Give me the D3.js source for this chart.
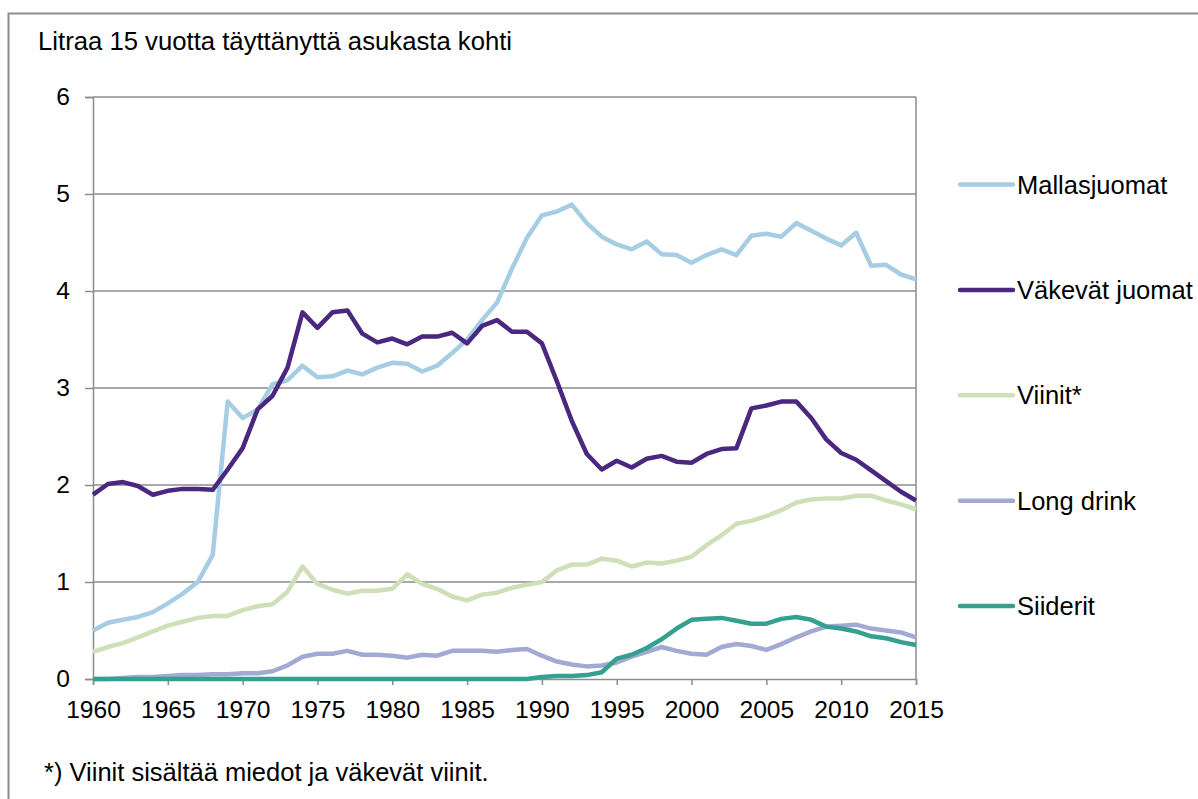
<!DOCTYPE html>
<html><head><meta charset="utf-8">
<script src="https://cdn.jsdelivr.net/npm/d3@7"></script>
<style>
html,body{margin:0;padding:0;background:#fff;}
svg{display:block;font-family:"Liberation Sans",Arial,sans-serif;}
</style></head>
<body>
<svg id="chart" width="1198" height="799"></svg>
<script>
const years = d3.range(1960, 2016);
const seriesNames = ["Mallasjuomat", "Väkevät juomat", "Viinit*", "Long drink", "Siiderit"];
const seriesColors = ["#a6cde4", "#4a2780", "#cfdfb8", "#a2aad3", "#35a08f"];
const mallasjuomat = [0.50,0.58,0.61,0.64,0.69,0.78,0.88,1.00,1.28,2.86,2.69,2.78,3.04,3.08,3.23,3.11,3.12,3.18,3.14,3.21,
  3.26,3.25,3.17,3.23,3.36,3.50,3.70,3.88,4.23,4.55,4.78,4.82,4.89,4.70,4.56,4.48,4.43,4.51,4.38,4.37,
  4.29,4.37,4.43,4.37,4.57,4.59,4.56,4.70,4.62,4.54,4.47,4.60,4.26,4.27,4.17,4.12];
const vakevat = [1.90,2.01,2.03,1.99,1.90,1.94,1.96,1.96,1.95,2.16,2.38,2.78,2.92,3.21,3.78,3.62,3.78,3.80,3.56,3.47,
  3.51,3.45,3.53,3.53,3.57,3.46,3.64,3.70,3.58,3.58,3.46,3.07,2.66,2.32,2.16,2.25,2.18,2.27,2.30,2.24,
  2.23,2.32,2.37,2.38,2.79,2.82,2.86,2.86,2.69,2.47,2.33,2.26,2.15,2.04,1.93,1.84];
const viinit = [0.28,0.33,0.37,0.43,0.49,0.55,0.59,0.63,0.65,0.65,0.71,0.75,0.77,0.90,1.16,0.98,0.92,0.88,0.91,0.91,
  0.93,1.08,0.98,0.93,0.85,0.81,0.87,0.89,0.94,0.97,1.00,1.12,1.18,1.18,1.24,1.22,1.16,1.20,1.19,1.22,
  1.26,1.38,1.48,1.60,1.63,1.68,1.74,1.82,1.85,1.86,1.86,1.89,1.89,1.84,1.80,1.75];
const longDrink = [0.00,0.00,0.01,0.02,0.02,0.03,0.04,0.04,0.05,0.05,0.06,0.06,0.08,0.14,0.23,0.26,0.26,0.29,0.25,0.25,
  0.24,0.22,0.25,0.24,0.29,0.29,0.29,0.28,0.30,0.31,0.24,0.18,0.15,0.13,0.14,0.17,0.23,0.28,0.33,0.29,
  0.26,0.25,0.33,0.36,0.34,0.30,0.36,0.43,0.49,0.54,0.55,0.56,0.52,0.50,0.48,0.43];
const siiderit = [0,0,0,0,0,0,0,0,0,0,0,0,0,0,0,0,0,0,0,0,
  0,0,0,0,0,0,0,0,0,0,0.02,0.03,0.03,0.04,0.07,0.21,0.25,0.32,0.41,0.52,
  0.61,0.62,0.63,0.60,0.57,0.57,0.62,0.64,0.61,0.54,0.52,0.49,0.44,0.42,0.38,0.35];
const xTicks = d3.range(1960, 2016, 5);
const yTicks = [0,1,2,3,4,5,6];
const titleText = "Litraa 15 vuotta täyttänyttä asukasta kohti";
const footnote = "*) Viinit sisältää miedot ja väkevät viinit.";

const allSeries = [mallasjuomat, vakevat, viinit, longDrink, siiderit];

const svg = d3.select("#chart");
const L = 93, R = 916, T = 97, B = 679;
const x = d3.scaleLinear().domain([1960, 2015]).range([L, R]);
const y = d3.scaleLinear().domain([0, 6]).range([B, T]);
const grid = "#8c8c8c";
const FONT = "Liberation Sans, Arial, sans-serif";

// outer frame
svg.append("rect").attr("x", 8.5).attr("y", 13.5).attr("width", 1300).attr("height", 900)
  .attr("fill", "none").attr("stroke", grid).attr("stroke-width", 2);

// title
svg.append("text").attr("x", 38).attr("y", 50).attr("font-size", 25.7).attr("fill", "#000").text(titleText);

// gridlines
svg.append("g").selectAll("line").data(yTicks.filter(d => d > 0)).join("line")
  .attr("x1", L).attr("x2", R).attr("y1", d => y(d)).attr("y2", d => y(d))
  .attr("stroke", grid).attr("stroke-width", 1.5);
// right border
svg.append("line").attr("x1", R).attr("x2", R).attr("y1", T).attr("y2", B)
  .attr("stroke", grid).attr("stroke-width", 1.5);

// y axis
const yAxis = svg.append("g").attr("transform", `translate(${L},0)`)
  .call(d3.axisLeft(y).tickValues(yTicks).tickSize(8).tickPadding(15).tickFormat(d3.format("d")));
yAxis.select(".domain").attr("stroke", grid).attr("stroke-width", 1.5);
yAxis.selectAll(".tick line").attr("stroke", grid).attr("stroke-width", 1.5);
yAxis.selectAll("text").attr("font-size", 24.6).attr("fill", "#000").attr("font-family", FONT);

// x axis
const xAxis = svg.append("g").attr("transform", `translate(0,${B})`)
  .call(d3.axisBottom(x).tickValues(xTicks).tickSize(6).tickPadding(16).tickFormat(d3.format("d")));
xAxis.select(".domain").attr("stroke", grid).attr("stroke-width", 1.5);
xAxis.selectAll(".tick line").attr("stroke", grid).attr("stroke-width", 1.5);
xAxis.selectAll("text").attr("font-size", 24.6).attr("fill", "#000").attr("font-family", FONT);

// lines
const line = d3.line().x((d, i) => x(years[i])).y(d => y(d));
svg.append("g").selectAll("path").data(allSeries).join("path")
  .attr("d", d => line(d)).attr("fill", "none")
  .attr("stroke", (d, i) => seriesColors[i]).attr("stroke-width", 4.5)
  .attr("stroke-linejoin", "round").attr("stroke-linecap", "butt");

// legend
const leg = svg.append("g").selectAll("g").data(seriesNames).join("g")
  .attr("transform", (d, i) => `translate(960,${184.5 + i * 105.4})`);
leg.append("line").attr("x1", 0).attr("x2", 53).attr("y1", 0).attr("y2", 0)
  .attr("stroke", (d, i) => seriesColors[i]).attr("stroke-width", 4.5).attr("stroke-linecap", "round");
leg.append("text").attr("x", 57).attr("y", 9).attr("font-size", 25.5).attr("fill", "#000").text(d => d);

// footnote
svg.append("text").attr("x", 44).attr("y", 781).attr("font-size", 25.5).attr("fill", "#000").text(footnote);
</script>
</body></html>
